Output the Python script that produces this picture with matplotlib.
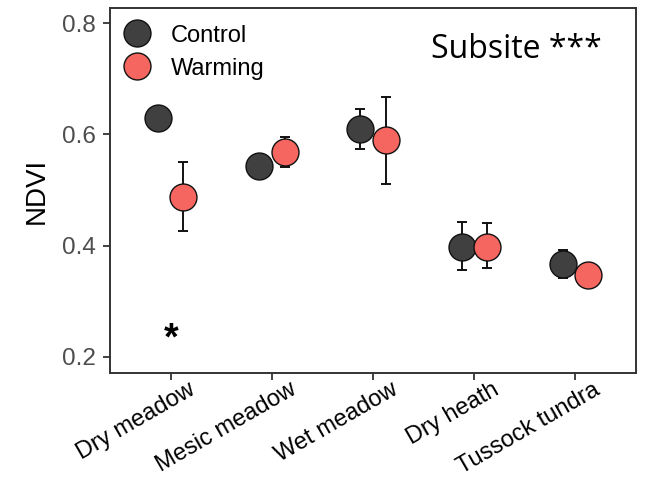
import numpy as np
import matplotlib.pyplot as plt
from matplotlib.lines import Line2D
from matplotlib.transforms import ScaledTranslation

plt.rcParams['font.family'] = ['Liberation Sans', 'DejaVu Sans']

habitats = ['Dry meadow', 'Mesic meadow', 'Wet meadow', 'Dry heath', 'Tussock tundra']

control_mean = [0.629, 0.544, 0.609, 0.398, 0.367]
control_lo = [0.629, 0.544, 0.573, 0.357, 0.342]
control_hi = [0.629, 0.544, 0.645, 0.443, 0.393]

warming_mean = [0.488, 0.569, 0.589, 0.398, 0.348]
warming_lo = [0.427, 0.542, 0.510, 0.360, 0.348]
warming_hi = [0.550, 0.596, 0.667, 0.440, 0.348]

sig_habitat = 'Dry meadow'
sig_label = '*'
sig_y = 0.232

CONTROL_COLOR = '#404040'
WARMING_COLOR = '#f4665f'

fig = plt.figure(figsize=(6.49, 4.78), dpi=100)
ax = fig.add_axes([0.1695, 0.2197, 0.8105, 0.7633])

x = np.arange(1, len(habitats) + 1)
dodge = 0.125

series = [
    ('Control', control_mean, control_lo, control_hi, CONTROL_COLOR, -dodge),
    ('Warming', warming_mean, warming_lo, warming_hi, WARMING_COLOR, dodge),
]
for label, mean, lo, hi, color, off in series:
    mean = np.array(mean)
    yerr = [mean - np.array(lo), np.array(hi) - mean]
    ax.errorbar(x + off, mean, yerr=yerr, fmt='none', ecolor='#111111',
                elinewidth=1.4, capsize=3.6, capthick=1.4, zorder=2)
    ax.plot(x + off, mean, 'o', ms=19.4, mfc=color, mec='#111111', mew=1.0,
            linestyle='none', zorder=3)

ax.text(x[habitats.index(sig_habitat)], sig_y, sig_label, ha='center', va='center',
        fontsize=27, fontweight='bold')
ax.text(0.935, 0.863, 'Subsite ***', transform=ax.transAxes, ha='right', va='baseline',
        fontsize=23, family='Open Sans')

ax.set_xlim(0.4, 5.6)
ax.set_ylim(0.171, 0.827)
ax.set_yticks([0.2, 0.4, 0.6, 0.8])
ax.set_yticklabels(['0.2', '0.4', '0.6', '0.8'])
ax.set_xticks(x)
ax.set_xticklabels(habitats, rotation=30, ha='right', va='center', rotation_mode='anchor')
ax.set_ylabel('NDVI', fontsize=20, labelpad=9)

ax.tick_params(axis='y', labelsize=17.5, labelcolor='#4d4d4d', length=5, width=1.3,
               color='#333333', pad=5)
ax.tick_params(axis='x', labelsize=17, labelcolor='black', length=5, width=1.3,
               color='#333333', pad=6)
for lbl in ax.get_xticklabels():
    lbl.set_transform(lbl.get_transform() + ScaledTranslation(0.23, 0, fig.dpi_scale_trans))
for s in ax.spines.values():
    s.set_color('#333333')
    s.set_linewidth(1.4)

handles = [Line2D([0], [0], marker='o', ms=19.4, mfc=c, mec='#111111', mew=1.0,
                  linestyle='none', label=l) for l, c in
           [('Control', CONTROL_COLOR), ('Warming', WARMING_COLOR)]]
ax.legend(handles=handles, loc='upper left', bbox_to_anchor=(-0.012, 1.0),
          frameon=False, fontsize=17, handletextpad=0.75, labelspacing=0.47,
          borderaxespad=0.3, handlelength=1.4)

fig.savefig('out.png', dpi=100)
